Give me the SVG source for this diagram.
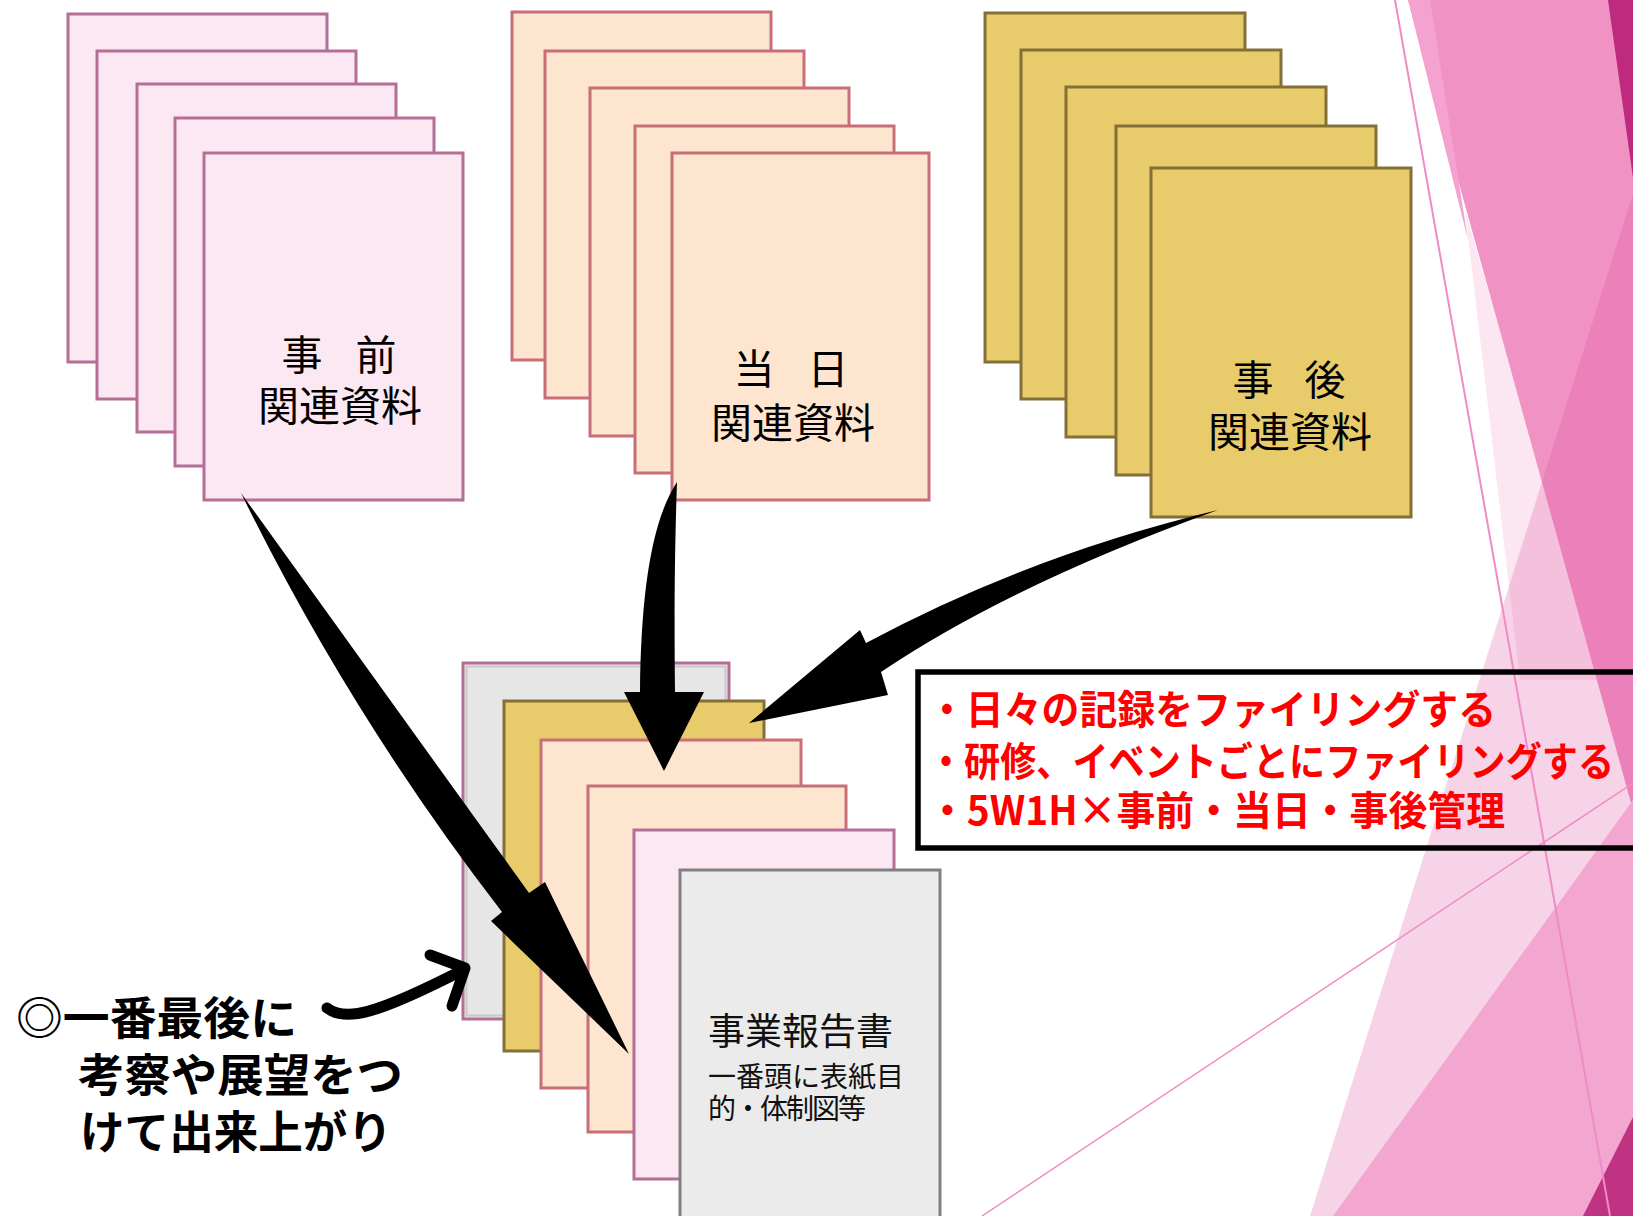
<svg xmlns="http://www.w3.org/2000/svg" width="1633" height="1216" viewBox="0 0 1633 1216">
<style>
.doc-pink{fill:#FCE8F3;stroke:#B56E96;stroke-width:3}
.doc-peach{fill:#FDE5CF;stroke:#C86E78;stroke-width:3}
.doc-gold{fill:#E8CB6B;stroke:#837036;stroke-width:3}
.doc-grey{fill:#EBEBEB;stroke:#808080;stroke-width:3}
.lbl{font-family:"Noto Sans CJK JP","Noto Sans CJK SC",sans-serif;font-size:41px;fill:#000;text-anchor:middle}
.rep{font-family:"Noto Sans CJK JP","Noto Sans CJK SC",sans-serif;fill:#111}
.red{font-family:"Noto Sans CJK JP","Noto Sans CJK SC",sans-serif;font-weight:bold;font-size:40px;fill:#FF0000}
.note{font-family:"Noto Sans CJK JP","Noto Sans CJK SC",sans-serif;font-weight:bold;font-size:45px;fill:#000}
.arrow{fill:#000}
.bgline{stroke:#F08CC4;fill:none}
</style>
<rect x="0" y="0" width="1633" height="1216" fill="#FFFFFF"/>
<g id="background-decor">
  <polygon points="1465,210 1520,680 1600,680" fill="#FBE6F1"/>
  <polygon points="1408,0 1633,0 1633,810" fill="#F192C5"/>
  <polygon points="1408,0 1430,0 1468,240" fill="#F4A3D0"/>
  <polygon points="1608,0 1633,0 1633,178" fill="#BE2A7E"/>
  <polygon points="1633,194 1633,1216 1310,1216" fill="#DE479B" fill-opacity="0.24"/>
  <polygon points="1333,1216 1633,800 1633,1216" fill="#F2A6D0"/>
  <polygon points="1583,1216 1633,1117 1633,1216" fill="#C03282"/>
  <line class="bgline" x1="1395" y1="0" x2="1610" y2="1216" stroke-width="2"/>
  <line class="bgline" x1="982" y1="1216" x2="1633" y2="783" stroke-width="1.5"/>
</g>
<g id="stack-before">
  <rect class="doc-pink" x="68" y="14" width="259" height="348"/>
  <rect class="doc-pink" x="97" y="51" width="259" height="348"/>
  <rect class="doc-pink" x="137" y="84" width="259" height="348"/>
  <rect class="doc-pink" x="175" y="118" width="259" height="348"/>
  <rect class="doc-pink" x="204" y="153" width="259" height="347"/>
  <text class="lbl" x="339" y="370" textLength="115">事　前</text>
  <text class="lbl" x="340" y="421">関連資料</text>
</g>
<g id="stack-day">
  <rect class="doc-peach" x="512" y="12" width="259" height="348"/>
  <rect class="doc-peach" x="545" y="51" width="259" height="347"/>
  <rect class="doc-peach" x="590" y="88" width="259" height="348"/>
  <rect class="doc-peach" x="635" y="126" width="259" height="347"/>
  <rect class="doc-peach" x="672" y="153" width="257" height="347"/>
  <text class="lbl" x="791" y="384" textLength="115">当　日</text>
  <text class="lbl" x="793" y="438">関連資料</text>
</g>
<g id="stack-after">
  <rect class="doc-gold" x="985" y="13" width="260" height="349"/>
  <rect class="doc-gold" x="1021" y="50" width="260" height="349"/>
  <rect class="doc-gold" x="1066" y="87" width="260" height="350"/>
  <rect class="doc-gold" x="1116" y="126" width="260" height="349"/>
  <rect class="doc-gold" x="1151" y="168" width="260" height="349"/>
  <text class="lbl" x="1289" y="395" textLength="113">事　後</text>
  <text class="lbl" x="1290" y="447">関連資料</text>
</g>
<g id="report-stack">
  <rect x="463" y="663" width="266" height="356" fill="#E6E6E6" stroke="#B56E96" stroke-width="3"/>
  <rect x="466.5" y="666.5" width="259" height="349" fill="none" stroke="#C9C9C9" stroke-width="2"/>
  <rect class="doc-gold" x="504" y="701" width="260" height="350"/>
  <rect class="doc-peach" x="541" y="740" width="260" height="348"/>
  <rect class="doc-peach" x="588" y="786" width="258" height="346"/>
  <rect class="doc-pink" x="634" y="830" width="260" height="349"/>
</g>
<g id="report-cover">
  <rect class="doc-grey" x="680" y="870" width="260" height="370"/>
  <text class="rep" x="708" y="1045" font-size="37">事業報告書</text>
  <text class="rep" x="708" y="1087" font-size="28">一番頭に表紙目</text>
  <text class="rep" x="708" y="1119" font-size="28" textLength="158">的・体制図等</text>
</g>
<g id="connectors">
  <path class="arrow" d="M241,493 Q350,715 502,912 L491,921 L629,1054 L545,882 L529,893 Q385,693 241,493 Z"/>
  <path class="arrow" d="M677,482 C652,520 641,590 640,692 L624,692 L664,771 L704,692 L675,692 C674,600 675,540 677,482 Z"/>
  <path class="arrow" d="M1218,510 Q1030,555 866,643 L860,630 L749,723 L888,695 L881,672 Q1010,585 1218,510 Z"/>
  <path d="M327,1008 C345,1022 375,1015 463,970" fill="none" stroke="#000" stroke-width="11" stroke-linecap="round"/>
  <path d="M430,955 L465,968 L452,1006" fill="none" stroke="#000" stroke-width="11" stroke-linecap="round" stroke-linejoin="round"/>
</g>
<g id="note-box">
  <rect x="918" y="672" width="760" height="176" fill="none" stroke="#000" stroke-width="5.5"/>
  <text class="red" x="928" y="724" textLength="568" lengthAdjust="spacingAndGlyphs">・日々の記録をファイリングする</text>
  <text class="red" x="928" y="776" textLength="686" lengthAdjust="spacingAndGlyphs">・研修、イベントごとにファイリングする</text>
  <text class="red" x="928" y="825" textLength="577" lengthAdjust="spacingAndGlyphs">・5W1H×事前・当日・事後管理</text>
</g>
<g id="final-note">
  <text class="note" x="16" y="1035" textLength="281" lengthAdjust="spacingAndGlyphs">◎一番最後に</text>
  <text class="note" x="78" y="1092" textLength="325" lengthAdjust="spacingAndGlyphs">考察や展望をつ</text>
  <text class="note" x="80" y="1149" textLength="312" lengthAdjust="spacingAndGlyphs">けて出来上がり</text>
</g>
</svg>
